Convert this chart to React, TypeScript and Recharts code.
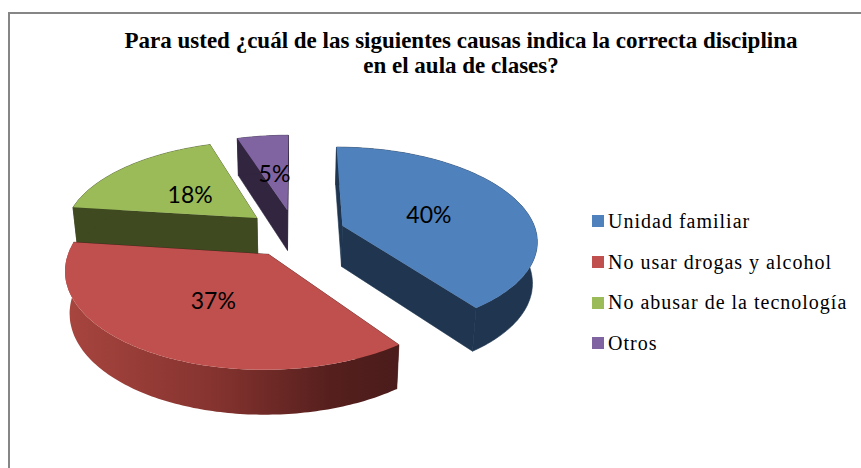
import React from "react";
import { PieChart, Pie, Legend } from "recharts";

const categories = ["Unidad familiar", "No usar drogas y alcohol", "No abusar de la tecnología", "Otros"];
const shares = [40, 37, 18, 5];
const topColors = ["#4f81bd", "#c0504d", "#9bbb59", "#8064a2"];
const wallColors = ["#1f3550", "#4a1c1b", "#3f4a21", "#312540"];
const titleLines = ["Para usted ¿cuál de las siguientes causas indica la correcta disciplina", "en el aula de clases?"];

// drawn back to front (Otros first), so the pie runs counter-clockwise from the top
const pieData = categories
  .map((name, i) => ({ name, value: shares[i], fill: topColors[i], wall: wallColors[i] }))
  .reverse();

const RAD = Math.PI / 180;
const FLATTEN = 0.474; // vertical squash of the disc
const PERSP = 0.145; // how much nearer parts grow
const EXPLODE = 0.26;

// disc coordinates (radius 1) to screen
const project = (cx: number, cy: number, r: number, X: number, Y: number) => {
  const w = 1 - PERSP * Y;
  return { x: cx + (r * X) / w, y: cy + (r * FLATTEN * Y) / w, w };
};

const lower = (cx: number, p: { x: number; y: number; w: number }) => ({
  x: cx + (p.x - cx) * 0.98,
  y: p.y + 41 + (1 - p.w) * 22,
  w: p.w,
});

const toPath = (pts: { x: number; y: number }[]) =>
  pts.map((p, i) => `${i ? "L" : "M"}${p.x.toFixed(1)},${p.y.toFixed(1)}`).join(" ") + " Z";

const Slice3D = (props: any) => {
  const { cx, cy, outerRadius, startAngle, endAngle, fill, wall, name } = props;
  const mid = ((startAngle + endAngle) / 2) * RAD;
  const ox = Math.cos(mid) * EXPLODE;
  const oy = -Math.sin(mid) * EXPLODE;
  const apex = project(cx, cy, outerRadius, ox, oy);
  const arc: { x: number; y: number; w: number }[] = [];
  const steps = Math.max(8, Math.round(Math.abs(endAngle - startAngle)));
  for (let i = 0; i <= steps; i++) {
    const a = (startAngle + ((endAngle - startAngle) * i) / steps) * RAD;
    arc.push(project(cx, cy, outerRadius, ox + Math.cos(a), oy - Math.sin(a)));
  }
  const arcLow = arc.map((p) => lower(cx, p));
  const apexLow = lower(cx, apex);
  const first = arc[0];
  const last = arc[arc.length - 1];
  const isRed = name === categories[1];
  return (
    <g>
      {isRed && (
        <defs>
          <linearGradient id="redWall" x1="0" y1="0" x2="1" y2="0">
            <stop offset="0" stopColor="#a8453f" />
            <stop offset="0.45" stopColor="#85332f" />
            <stop offset="0.8" stopColor="#551f1d" />
            <stop offset="1" stopColor="#4a1c1b" />
          </linearGradient>
        </defs>
      )}
      <path d={toPath([apex, first, lower(cx, first), apexLow])} fill={wall} stroke={wall} strokeWidth={0.6} />
      <path d={toPath([apex, last, lower(cx, last), apexLow])} fill={wall} stroke={wall} strokeWidth={0.6} />
      <path
        d={toPath([...arc, ...arcLow.slice().reverse()])}
        fill={isRed ? "url(#redWall)" : wall}
        stroke={isRed ? "none" : wall}
        strokeWidth={0.6}
      />
      <path d={toPath([apex, ...arc])} fill={fill} />
    </g>
  );
};

const renderLabel = (props: any) => {
  const { cx, cy, outerRadius, midAngle, value } = props;
  const m = midAngle * RAD;
  const dist = EXPLODE + 0.49;
  const p = project(cx, cy, outerRadius, Math.cos(m) * dist, -Math.sin(m) * dist);
  return (
    <text x={p.x} y={p.y + 2} textAnchor="middle" dominantBaseline="central" fontFamily="Lato" fontSize={23} fill="#000">
      {`${value}%`}
    </text>
  );
};

const renderLegend = ({ payload }: any) => (
  <div style={{ fontFamily: "'Liberation Serif'", fontSize: 20, letterSpacing: 1, color: "#000" }}>
    {[...(payload || [])]
      .sort((a: any, b: any) => categories.indexOf(a.value) - categories.indexOf(b.value))
      .map((item: any) => (
        <div key={item.value} style={{ display: "flex", alignItems: "center", height: 40.7, whiteSpace: "nowrap" }}>
          <span style={{ width: 12, height: 12, background: item.color, marginRight: 4, display: "inline-block" }} />
          {item.value}
        </div>
      ))}
  </div>
);

export default function App() {
  return (
    <div style={{ position: "absolute", left: 0, top: 0, width: 861, height: 468, overflow: "hidden", background: "#fff" }}>
      <div style={{ position: "absolute", left: 8, top: 12, width: 900, height: 500, border: "2px solid #868686" }} />
      <PieChart width={861} height={468} margin={{ top: 0, right: 0, bottom: 0, left: 0 }}>
        <text x={461} y={48} textAnchor="middle" fontFamily="'Liberation Serif'" fontWeight="bold" fontSize={23} fill="#000">
          {titleLines[0]}
        </text>
        <text x={461} y={72.5} textAnchor="middle" fontFamily="'Liberation Serif'" fontWeight="bold" fontSize={23} fill="#000">
          {titleLines[1]}
        </text>
        <Pie
          data={pieData}
          dataKey="value"
          nameKey="name"
          cx={295}
          cy={233}
          outerRadius={194}
          startAngle={90}
          endAngle={450}
          stroke="none"
          shape={Slice3D}
          label={renderLabel}
          labelLine={false}
          isAnimationActive={false}
        />
        <Legend
          content={renderLegend}
          layout="vertical"
          wrapperStyle={{ position: "absolute", left: 592, top: 201, width: 269, bottom: "auto" }}
        />
      </PieChart>
    </div>
  );
}
